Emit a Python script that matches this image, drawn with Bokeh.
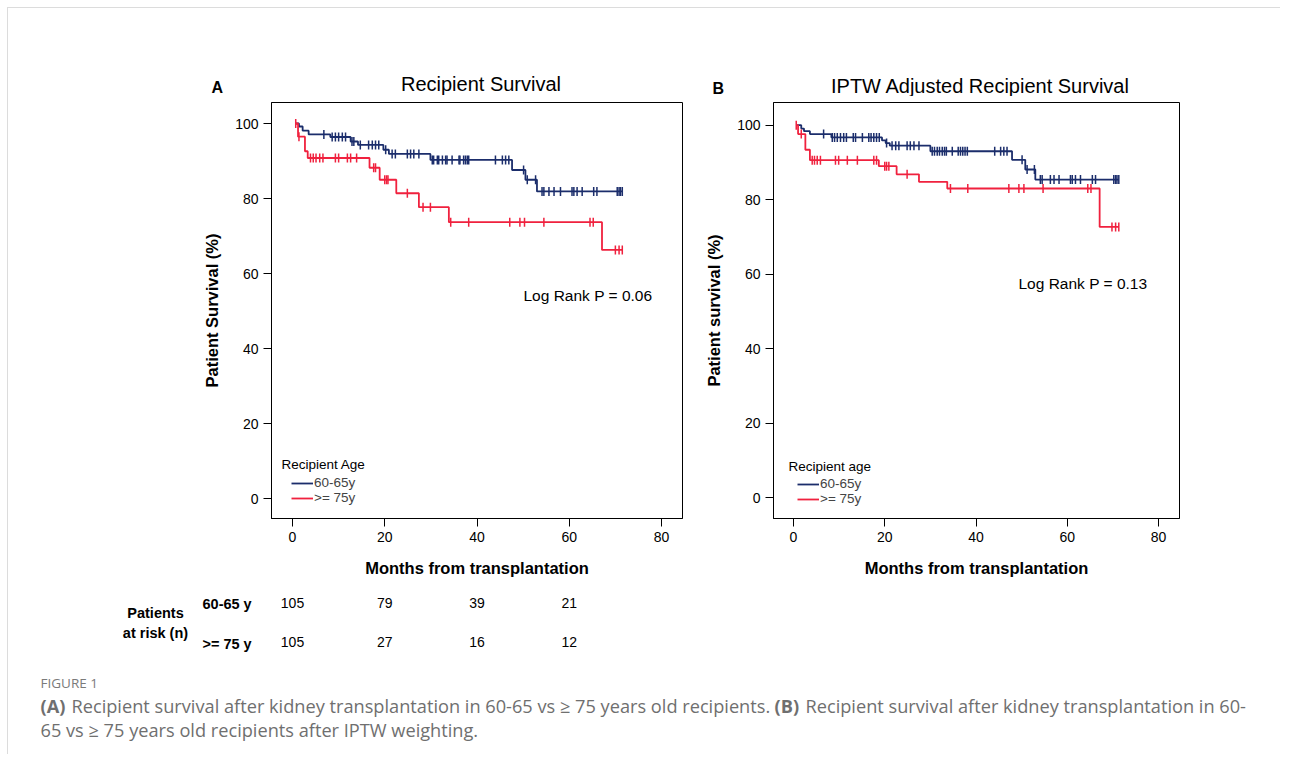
import numpy as np
from bokeh.plotting import figure
from bokeh.models import (Range1d, FixedTicker, Label, Legend, LegendItem)
from bokeh.layouts import row, column
from bokeh.core.properties import value
from bokeh.embed import file_html
from bokeh.resources import INLINE

# ---------------- data ----------------
# Panel A: Recipient survival (step times, survival % after each step)
blue_A_t = [0.6, 1.4, 2.2, 3.5, 8.2, 12.6, 14.2, 19.7, 20.9, 29.9, 47.6, 50.5, 53.0, 71.5]
blue_A_s = [100, 99.2, 98.1, 97.1, 96.4, 95.2, 94.3, 93.0, 91.9, 90.3, 87.6, 85.0, 81.9, 81.9]
red_A_t = [0.6, 1.2, 2.7, 3.3, 16.7, 18.9, 22.5, 27.4, 33.9, 67.1, 71.5]
red_A_s = [100, 96.5, 92.6, 90.8, 88.2, 85.0, 81.4, 77.7, 73.7, 66.3, 66.3]
blue_A_cens = [6.8, 8.6, 9.3, 10.0, 10.8, 11.5, 12.9, 13.3, 14.7, 16.5, 17.3, 18.0, 18.7, 20.2,
               21.6, 22.3, 24.9, 25.6, 26.3, 27.4, 30.3, 30.6, 31.4, 31.7, 32.5, 33.2, 33.5,
               34.6, 36.1, 36.3, 37.1, 37.5, 37.9, 38.2, 44.0, 45.5, 46.2, 46.9, 50.1, 50.9,
               52.7, 54.1, 54.5, 55.6, 56.7, 58.1, 60.6, 61.0, 61.7, 62.8, 65.3, 66.0, 70.4,
               70.8, 71.1, 71.5]
red_A_cens = [0.7, 1.4, 3.9, 4.5, 5.1, 5.9, 6.6, 9.3, 10.0, 11.9, 12.6, 13.9, 17.6, 18.0, 20.0,
              20.4, 20.7, 24.9, 28.3, 29.9, 34.3, 38.2, 47.1, 49.3, 50.3, 54.5, 64.5, 65.2,
              70.0, 70.8, 71.5]

# Panel B: IPTW adjusted
blue_B_t = [0.6, 1.7, 2.3, 3.6, 8.3, 19.4, 20.2, 21.1, 30.0, 47.9, 50.8, 53.0, 71.3]
blue_B_s = [100, 99.1, 98.4, 97.6, 96.7, 95.9, 95.2, 94.5, 93.0, 90.7, 88.1, 85.4, 85.4]
red_B_t = [0.6, 1.0, 2.6, 3.6, 18.7, 22.6, 27.5, 33.7, 67.1, 71.3]
red_B_s = [100, 97.6, 93.4, 90.6, 89.0, 86.8, 84.8, 83.0, 72.7, 72.7]
blue_B_cens = [6.6, 8.5, 9.0, 9.6, 10.3, 11.0, 11.6, 13.1, 13.6, 15.1, 16.5, 17.0, 17.6, 18.2,
               18.8, 20.4, 21.6, 22.4, 23.1, 24.9, 25.6, 26.4, 27.5, 30.4, 30.9, 31.5, 32.0,
               32.6, 33.1, 33.5, 34.8, 36.1, 36.6, 37.1, 37.6, 38.1, 44.1, 45.4, 46.1, 46.8,
               50.1, 51.2, 52.8, 54.1, 54.5, 56.3, 57.1, 58.2, 60.7, 61.1, 61.8, 62.9, 65.5,
               66.2, 70.2, 70.6, 70.9, 71.3]
red_B_cens = [0.6, 1.7, 4.1, 4.6, 5.2, 5.9, 9.2, 9.9, 11.8, 14.0, 17.6, 18.2, 20.0, 20.4, 20.9,
              24.9, 34.4, 38.2, 47.2, 49.4, 50.5, 54.7, 64.5, 65.2, 69.8, 70.6, 71.3]

x_ticks = [0, 20, 40, 60, 80]
y_ticks = [0, 20, 40, 60, 80, 100]

risk_times = [0, 20, 40, 60]
risk_young = [105, 79, 39, 21]
risk_old = [105, 27, 16, 12]
group_labels = ["60-65y", ">= 75y"]
risk_row_labels = ["60-65 y", ">= 75 y"]

BLUE = "#1b2d6b"
RED = "#f0213e"
FONT = "Liberation Sans"

# layout (page pixels)
PAGE_X0, PAGE_Y0 = 8, 8
TOTAL_W = 1272
HEAD_H = 88          # page y 8..96
PANEL_H = 489        # page y 96..585
RISK_H = 73          # page y 585..658
CAP_H = 96           # page y 658..754
A_W, B_W = 692, 580


def surv_at(t_list, s_list, times):
    t = np.asarray(t_list)
    s = np.asarray(s_list)
    idx = np.searchsorted(t, np.asarray(times), side="right") - 1
    idx = np.clip(idx, 0, len(s) - 1)
    return s[idx]


def make_panel(width, height, xr, yr, borders, ylabel, xlabel):
    p = figure(width=width, height=height, x_range=Range1d(*xr), y_range=Range1d(*yr),
               output_backend="svg", toolbar_location=None,
               min_border_left=borders[0], min_border_right=borders[1],
               min_border_top=borders[2], min_border_bottom=borders[3])
    p.grid.visible = False
    p.outline_line_color = "black"
    p.outline_line_width = 1
    p.xaxis.ticker = FixedTicker(ticks=x_ticks)
    p.yaxis.ticker = FixedTicker(ticks=y_ticks)
    for ax in (p.xaxis[0], p.yaxis[0]):
        ax.major_tick_out = 8
        ax.major_tick_in = 0
        ax.minor_tick_out = 0
        ax.minor_tick_in = 0
        ax.axis_line_color = "black"
        ax.major_tick_line_color = "black"
        ax.major_label_text_font = FONT
        ax.major_label_text_font_size = "14px"
        ax.major_label_text_color = "black"
        ax.major_label_standoff = 5
        ax.axis_label_text_font = FONT
        ax.axis_label_text_font_style = "bold"
        ax.axis_label_text_font_size = "16.5px"
        ax.axis_label_text_color = "black"
    p.xaxis[0].axis_label_standoff = 14
    p.yaxis[0].axis_label_standoff = 11
    p.yaxis.axis_label = ylabel
    p.xaxis.axis_label = xlabel
    return p


def add_curves(p, bt, bs, bc, rt, rs, rc, legend_loc):
    rb = p.step(x=bt, y=bs, mode="after", line_color=BLUE, line_width=1.8)
    p.scatter(x=bc, y=surv_at(bt, bs, bc), marker="dash", angle=np.pi / 2, size=9,
              line_color=BLUE, line_width=1.5)
    rr = p.step(x=rt, y=rs, mode="after", line_color=RED, line_width=1.8)
    p.scatter(x=rc, y=surv_at(rt, rs, rc), marker="dash", angle=np.pi / 2, size=9,
              line_color=RED, line_width=1.5)
    leg = Legend(items=[LegendItem(label=group_labels[0], renderers=[rb]),
                        LegendItem(label=group_labels[1], renderers=[rr])],
                 location=legend_loc, orientation="vertical",
                 label_text_font=FONT, label_text_font_size="13.5px",
                 glyph_width=22, glyph_height=12, label_height=14, label_standoff=1,
                 spacing=0, padding=2, margin=0,
                 border_line_alpha=0, background_fill_alpha=0)
    p.add_layout(leg)


def add_text(p, x, y, s, size, bold=False, align="left", baseline="middle", color="black", font=FONT):
    p.add_layout(Label(x=x, y=y, text=s, text_font=font, text_font_size=size,
                       text_font_style="bold" if bold else "normal", text_align=align,
                       text_baseline=baseline, text_color=color))


def pixel_fig(width, height):
    f = figure(width=width, height=height, x_range=Range1d(0, width), y_range=Range1d(height, 0),
               output_backend="svg", toolbar_location=None, min_border=0,
               x_axis_type=None, y_axis_type=None, outline_line_color=None)
    return f


# ---------------- Header (panel titles) ----------------
pH = pixel_fig(TOTAL_W, HEAD_H)
def hx(px): return px - PAGE_X0
def hy(py): return py - PAGE_Y0
add_text(pH, hx(480.5), hy(83.5), "Recipient Survival", "20px", align="center")
add_text(pH, hx(211), hy(87), "A", "16px", bold=True)
add_text(pH, hx(980), hy(85), "IPTW Adjusted Recipient Survival", "20px", align="center")
add_text(pH, hx(712), hy(87.5), "B", "16px", bold=True)

PANEL_TOP = PAGE_Y0 + HEAD_H   # 96
PANEL_BOT = PANEL_TOP + PANEL_H  # 585

# ---------------- Panel A ----------------
ax0, akx, ay0, aky = 292.0, 4.6125, 498.0, 3.75
def ax_(px): return (px - ax0) / akx
def ay_(py): return (ay0 - py) / aky

A_L, A_R, A_T, A_B = 271, 682, 102, 518
pA = make_panel(A_W, PANEL_H, (ax_(A_L), ax_(A_R)), (ay_(A_B), ay_(A_T)),
                (A_L - PAGE_X0, PAGE_X0 + A_W - A_R, A_T - PANEL_TOP, PANEL_BOT - A_B),
                "Patient Survival (%)", "Months from transplantation")
add_curves(pA, blue_A_t, blue_A_s, blue_A_cens, red_A_t, red_A_s, red_A_cens, (18, 11))
add_text(pA, ax_(523), ay_(295), "Log Rank P = 0.06", "15.5px")
add_text(pA, ax_(281), ay_(464), "Recipient Age", "13.5px")

# ---------------- Panel B ----------------
bx0, bkx, by0, bky = 793.0, 4.5625, 498.0, 3.78
def bx_(px): return (px - bx0) / bkx
def by_(py): return (by0 - py) / bky

B_L, B_R, B_T, B_B = 773, 1179, 97, 519
B_X0 = PAGE_X0 + A_W
pB = make_panel(B_W, PANEL_H, (bx_(B_L), bx_(B_R)), (by_(B_B), by_(B_T)),
                (B_L - B_X0, B_X0 + B_W - B_R, B_T - PANEL_TOP, PANEL_BOT - B_B),
                "Patient survival (%)", "Months from transplantation")
add_curves(pB, blue_B_t, blue_B_s, blue_B_cens, red_B_t, red_B_s, red_B_cens, (22, 10))
add_text(pB, bx_(1018), by_(281), "Log Rank P = 0.13", "15.5px")
add_text(pB, bx_(788), by_(466), "Recipient age", "13.5px")

# ---------------- At-risk table (same x scale as panel A) ----------------
pR = figure(width=TOTAL_W, height=RISK_H,
            x_range=Range1d(ax_(PAGE_X0), ax_(PAGE_X0 + TOTAL_W)), y_range=Range1d(RISK_H, 0),
            output_backend="svg", toolbar_location=None, min_border=0,
            x_axis_type=None, y_axis_type=None, outline_line_color=None)
def ry(py): return py - PANEL_BOT
pR.text(x=risk_times, y=[ry(602)] * len(risk_times), text=[str(v) for v in risk_young],
        text_align="center", text_baseline="middle", text_font=value(FONT),
        text_font_size="14px", text_color="black")
pR.text(x=risk_times, y=[ry(641)] * len(risk_times), text=[str(v) for v in risk_old],
        text_align="center", text_baseline="middle", text_font=value(FONT),
        text_font_size="14px", text_color="black")
add_text(pR, ax_(202), ry(603), risk_row_labels[0], "14.5px", bold=True)
add_text(pR, ax_(202), ry(643), risk_row_labels[1], "14.5px", bold=True)
add_text(pR, ax_(155), ry(612), "Patients", "14.5px", bold=True, align="center")
add_text(pR, ax_(155), ry(632), "at risk (n)", "14.5px", bold=True, align="center")

# ---------------- Caption ----------------
pC = pixel_fig(TOTAL_W, CAP_H)
CAP_TOP = PANEL_BOT + RISK_H
def cx(px): return px - PAGE_X0
def cy(py): return py - CAP_TOP
CF = "Open Sans"
CG = "#6f6f6f"
CS = "18.2px"
add_text(pC, cx(40), cy(682), "FIGURE 1", "13.5px", color="#7a7a7a", font=CF)
add_text(pC, cx(40), cy(705), "(A)", CS, bold=True, color=CG, font=CF)
add_text(pC, cx(71), cy(705), "Recipient survival after kidney transplantation in 60-65 vs \u2265 75 years old recipients.",
         CS, color=CG, font=CF)
add_text(pC, cx(774), cy(705), "(B)", CS, bold=True, color=CG, font=CF)
add_text(pC, cx(805), cy(705), "Recipient survival after kidney transplantation in 60-", CS, color=CG, font=CF)
add_text(pC, cx(40), cy(729), "65 vs \u2265 75 years old recipients after IPTW weighting.", CS, color=CG, font=CF)

layout = column(pH, row(pA, pB), pR, pC, margin=(PAGE_Y0 - 1, 0, 0, PAGE_X0 - 1),
                styles={"border-top": "1px solid #dcdcdc", "border-left": "1px solid #dcdcdc"})

open("out.html", "w").write(file_html(layout, INLINE))
